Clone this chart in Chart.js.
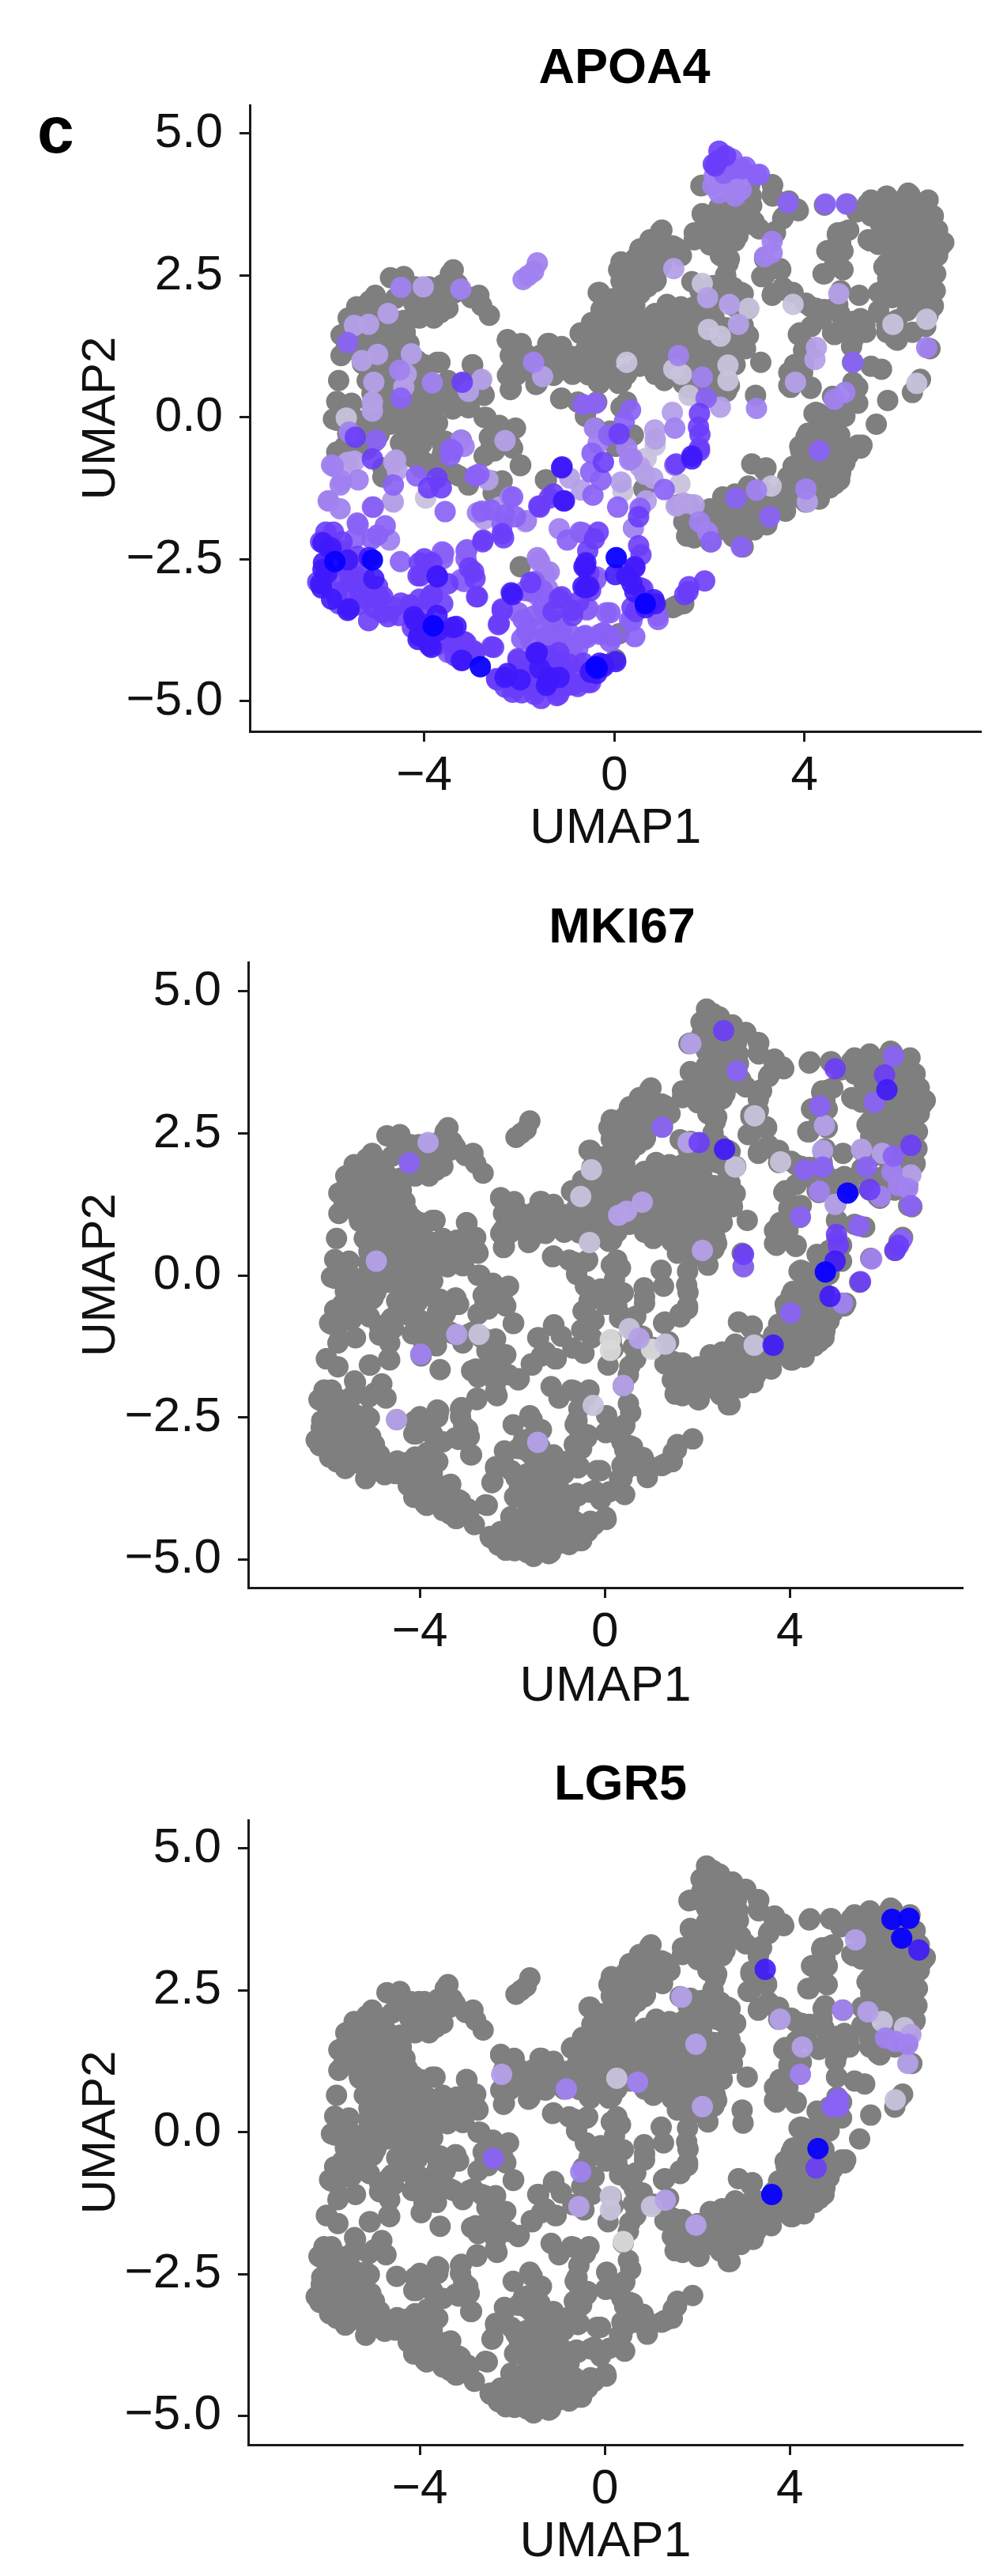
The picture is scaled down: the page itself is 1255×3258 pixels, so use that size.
<!DOCTYPE html>
<html>
<head>
<meta charset="utf-8">
<title>UMAP feature plots</title>
<script src="https://cdn.jsdelivr.net/npm/chart.js@4/dist/chart.umd.min.js"></script>
<style>
  html, body { margin: 0; padding: 0; background: #fff; }
  #page { position: relative; width: 1255px; height: 3258px; overflow: hidden; }
  #page canvas { position: absolute; left: 0; }
  #panelLetter { position: absolute; left: 47px; top: 122px; font: bold 84px "Liberation Sans", Arial, sans-serif; color: #000; line-height: 84px; }
</style>
</head>
<body>
<div id="page">
  <div id="panelLetter">c</div>
  <canvas id="apoa4Chart"></canvas>
  <canvas id="mki67Chart"></canvas>
  <canvas id="lgr5Chart"></canvas>
</div>
<script>
// [UMAP1, UMAP2, APOA4 level] - level 0 is no expression (grey), 8 is the highest
var upperLeftCells = [
  [-4.71,2.46,0],[-4.43,2.48,0],[-3.61,2.34,0],[-3.45,2.53,0],[-3.78,2.11,0],[-4.05,1.85,0],[-3.5,1.92,0],[-4.22,2.01,0],
  [-3.78,1.92,0],[-4.43,1.71,0],[-5.03,2.15,0],[-5.42,1.95,0],[-4.98,1.83,0],[-5.75,1.09,0],[-4.32,1.3,0],[-4.71,1.46,0],
  [-4.98,1.41,0],[-5.31,1.27,0],[-4.6,1.23,0],[-5.8,0.65,0],[-4.71,1.0,0],[-4.82,0.62,0],[-4.76,0.3,0],[-4.0,0.9,0],
  [-3.67,0.97,0],[-2.98,0.92,0],[-2.74,0.39,0],[-3.56,0.39,0],[-3.67,0.25,0],[-4.16,0.44,0],[-4.22,0.11,0],[-3.89,0.3,0],
  [-3.72,-0.1,0],[-4.05,0.02,0],[-3.07,0.17,0],[-2.74,0.0,0],[-2.47,-0.17,0],[-2.08,-0.19,0],[-2.14,-0.54,0],[-2.63,-0.35,0],
  [-2.74,-0.68,0],[-2.52,-0.59,0],[-1.98,-0.85,0],[-1.43,-1.1,0],[-2.85,2.15,0],[-2.63,1.8,0],[-2.79,1.97,0],[-3.01,2.11,0],
  [-5.8,0.25,0],[-5.53,0.25,0],[-5.91,-0.03,0],[-4.71,-0.12,0],[-4.38,-0.26,0],[-4.22,-0.4,0],[-4.05,-0.47,0],[-4.32,-0.54,0],
  [-4.43,-0.17,0],[-3.99,-0.79,0],[-4.87,-1.05,0],[-5.75,-0.59,0],[-4.98,-0.12,0],[-3.67,-0.93,0],[-3.34,-1.0,0],[-3.07,-1.19,0],
  [-2.41,-1.14,0],[-2.55,-1.33,0],[-3.61,-0.49,0],[-2.25,1.36,0],[-1.98,1.27,0],[-2.19,1.09,0],[-2.19,0.81,0],[-2.17,0.51,0],
  [-1.87,1.09,0],[-1.65,0.58,0],[-1.37,1.3,0],[-1.1,1.18,0],[-0.88,1.04,0],[-0.88,0.76,0],[-1.16,0.83,0],[-0.34,2.2,0],
  [-0.72,1.48,0],[-0.34,1.69,0],[-0.44,1.32,0],[-0.61,1.0,0],[-0.34,0.62,0],[-0.23,1.23,0],[-1.13,0.33,0],[-0.61,0.02,0],
  [-0.28,1.9,0],
  [-4.49,2.29,4],[-4.02,2.3,3],[-3.23,2.26,4],[-4.76,1.83,3],[-5.47,1.62,3],[-5.17,1.64,3],[-5.61,1.32,5],[-5.31,1.0,3],
  [-4.98,1.11,3],[-4.27,1.12,3],[-5.06,0.62,3],[-4.52,0.83,4],[-4.38,0.76,3],[-5.09,0.27,3],[-5.09,0.11,3],[-4.49,0.34,5],
  [-4.43,0.53,3],[-3.83,0.61,4],[-3.2,0.62,6],[-2.79,0.67,3],[-3.07,0.46,3],[-2.3,-0.41,3],[-5.64,-0.01,2],[-5.58,-0.26,4],
  [-5.45,-0.35,6],[-5.01,-0.4,5],[-5.09,-0.73,6],[-5.47,-0.77,3],[-5.91,-0.86,4],[-4.6,-0.75,3],[-4.57,-0.93,3],[-4.65,-1.19,5],
  [-4.16,-1.03,5],[-3.91,-1.24,6],[-3.64,-1.24,6],[-5.77,-1.19,4],[-5.39,-1.1,4],[-6.02,-1.47,4],[-5.77,-1.61,4],[-5.09,-1.58,5],
  [-4.65,-1.49,3],[-3.97,-1.42,2],[-3.56,-1.66,5],[-2.85,-1.0,5],[-2.66,-1.1,3],[-3.4,-0.59,5],[-3.23,-0.4,4],[-3.45,-0.68,5],
  [-1.7,0.97,4],[-1.51,0.72,3],[-0.66,0.23,5],[-0.39,0.25,5],[-1.92,2.43,4],[-1.7,2.57,4],[-1.81,2.5,4],[-1.62,2.72,4],[-1.1,-0.87,7],
  [-0.94,-1.07,3],[-0.42,-0.19,4],[-0.12,-0.31,5],[-0.34,-0.45,4]
];

var upperLeftFill = [
  [-4.3,2.2,0],[-3.9,2.3,0],[-3.55,2.1,0],[-3.39,2.6,0],[-3.35,2.2,0],[-4.0,2.0,0],[-3.8,1.75,0],[-4.25,1.75,0],
  [-4.6,2.1,0],[-4.85,1.95,0],[-5.15,2.05,0],[-5.15,1.75,0],[-4.7,1.75,0],[-4.55,1.6,0],[-5.6,1.75,0],[-5.75,1.45,0],
  [-5.5,1.45,0],[-5.2,1.45,0],[-5.5,1.2,0],[-5.2,1.1,0],[-4.9,1.2,0],[-4.5,1.35,0],[-4.3,1.1,0],[-4.6,1.05,0],
  [-5.0,0.9,0],[-4.7,0.8,0],[-5.2,0.65,0],[-4.9,0.4,0],[-4.6,0.5,0],[-5.05,0.0,0],[-5.2,-0.2,0],[-4.6,0.15,0],
  [-4.35,0.4,0],[-4.4,0.7,0],[-4.15,0.7,0],[-3.85,0.6,0],[-3.5,0.65,0],[-3.3,0.55,0],[-3.3,0.35,0],[-3.4,0.15,0],
  [-3.15,0.4,0],[-2.99,0.93,0],[-2.82,0.65,0],[-2.76,0.42,0],[-3.05,0.18,0],[-3.16,0.6,0],[-2.7,0.0,0],[-2.42,-0.14,0],
  [-2.59,-0.51,0],[-3.56,-0.42,0],[-3.22,-0.4,0],[-2.25,1.37,0],[-1.96,1.3,0],[-2.25,0.74,0],[-2.19,0.49,0],[-1.85,1.11,0],
  [-1.62,0.93,0],[-1.62,0.6,0],[-1.74,0.8,0],[-1.4,1.3,0],[-1.11,1.25,0],[-1.28,0.74,0],[-0.88,1.07,0],[-0.6,0.97,0],
  [-0.37,0.97,0],[-0.31,0.6,0],[-1.11,0.34,0],[-0.77,0.27,0],[-0.37,0.27,0],[-0.6,0.09,0],[-0.4,-0.19,0],[-0.31,2.2,0],
  [-0.03,2.09,0],[-0.25,1.86,0],[-0.71,1.49,0],[-0.48,1.67,0],[-0.14,1.62,0],[-0.54,1.35,0],[-0.26,1.25,0],[0.09,1.35,0],
  [0.09,2.6,0],[0.14,2.74,0],[0.14,2.4,0],[-0.09,-0.24,0],[0.14,0.18,0],[0.09,0.6,0],[0.2,-0.33,0],[0.03,-0.51,0],
  [-5.84,0.28,0],[-5.55,0.23,0],[-5.84,-0.05,0],[-5.61,-0.28,0],[-5.1,-0.28,0],[-5.67,-0.51,0],[-5.27,-0.51,0],[-5.1,0.42,0],
  [-5.1,0.7,0],[-4.87,0.14,0],[-4.64,-0.05,0],[-4.19,0.09,0],[-3.79,-0.05,0],[-4.3,-0.28,0],[-4.13,-0.47,0],[-3.73,0.23,0],
  [-3.5,0.42,0],[-3.9,0.6,0],[-4.3,0.79,0],[-4.64,0.83,0],[-3.73,0.97,0],[-4.0,0.93,0],
  [-5.6,1.55,0],[-5.35,1.7,0],[-5.05,1.55,0],[-4.8,1.55,0],[-5.65,1.2,0],[-5.35,1.35,0],[-5.05,1.25,0],[-4.75,1.3,0],
  [-4.4,1.5,0],[-5.3,0.95,0],[-5.0,1.05,0],[-4.45,0.95,0],[-4.15,1.0,0],[-5.15,0.85,0],[-5.0,0.6,0],[-4.55,0.65,0],
  [-4.25,0.55,0],[-3.95,0.4,0],[-3.7,0.5,0],[-5.1,0.2,0],[-4.95,0.25,0],[-4.5,0.25,0],[-4.4,0.05,0],[-4.0,0.15,0],
  [-3.85,0.05,0],[-5.4,-0.05,0],[-5.3,-0.25,0],[-4.95,-0.3,0],[-4.5,-0.1,0],[-4.2,-0.15,0],[-3.95,-0.3,0],[-4.25,-0.7,0],
  [-4.5,-0.45,0],[-4.45,2.2,0],[-4.2,2.3,0],[-3.65,2.1,0],[-3.65,1.85,0],[-4.1,1.75,0],[-3.3,2.35,0],
  [-2.05,1.0,0],[-2.05,0.75,0],[-1.95,0.95,0],[-1.75,1.0,0],[-1.55,1.1,0],[-1.2,1.0,0],[-1.0,0.9,0],[-1.4,0.85,0],
  [-0.75,0.95,0],[-0.6,1.2,0],[-0.45,1.05,0],[-0.15,1.0,0],[-0.1,0.75,0],[-0.55,0.75,0],[-0.2,1.45,0],[-0.45,1.5,0],
  [-0.1,1.85,0],[0.05,1.5,0]
];

var upperRightCells = [
  [1.82,4.08,0],[1.85,3.59,0],[2.12,3.45,0],[2.39,3.78,0],[2.67,3.73,0],[2.89,3.73,0],[2.56,3.55,0],[2.94,3.45,0],
  [3.05,3.32,0],[3.32,4.1,0],[3.32,3.92,0],[3.54,3.5,0],[3.87,3.64,0],[3.38,3.27,0],[2.5,3.18,0],[2.23,3.22,0],
  [1.85,3.27,0],[1.68,3.13,0],[2.01,3.04,0],[2.23,2.85,0],[2.39,2.71,0],[2.34,2.48,0],[0.97,3.27,0],[0.75,3.13,0],
  [0.53,2.94,0],[1.03,2.99,0],[1.3,2.99,0],[1.41,2.85,0],[0.86,2.76,0],[0.48,2.66,0],[0.15,2.66,0],[0.64,2.48,0],
  [0.86,2.39,0],[0.26,2.43,0],[0.48,2.2,0],[0.01,2.06,0],[0.01,1.74,0],[0.43,1.97,0],[1.63,2.39,0],[1.14,1.92,0],
  [0.86,1.83,0],[1.46,1.88,0],[1.74,1.83,0],[0.59,1.69,0],[0.53,1.5,0],[0.92,1.55,0],[1.25,1.64,0],[1.57,1.55,0],
  [0.75,1.32,0],[0.37,1.27,0],[0.1,1.23,0],[0.64,1.04,0],[0.53,0.9,0],[0.86,0.76,0],[0.15,0.62,0],[0.26,0.76,0],
  [1.9,1.18,0],[2.12,1.09,0],[1.79,1.04,0],[2.07,0.85,0],[2.67,1.27,0],[2.78,1.46,0],[2.5,1.18,0],[2.34,2.25,0],
  [2.67,2.2,0],[2.5,2.29,0],[3.08,0.97,0],[2.97,0.39,0],[3.1,2.48,0],[3.32,2.62,0],[3.49,2.62,0],[3.32,2.15,0],
  [3.54,2.29,0],[3.76,2.2,0],[4.03,2.01,0],[4.25,1.92,0],[4.36,1.74,0],[4.74,1.83,0],[5.02,1.69,0],[5.18,1.74,0],
  [5.29,1.5,0],[4.85,1.69,0],[4.63,1.46,0],[5.02,1.36,0],[3.87,1.46,0],[4.14,1.6,0],[3.98,1.18,0],[3.76,0.85,0],
  [3.98,0.95,0],[3.71,0.53,0],[4.14,0.53,0],[4.39,2.53,0],[4.74,2.66,0],[4.5,2.94,0],[4.85,3.27,0],[4.69,3.22,0],
  [5.15,2.15,0],[5.4,3.83,0],[5.73,3.87,0],[6.22,3.92,0],[6.6,3.83,0],[6.71,3.55,0],[5.4,3.55,0],[5.73,3.59,0],
  [6.05,3.64,0],[6.38,3.59,0],[5.34,3.13,0],[5.67,3.27,0],[6.0,3.32,0],[6.33,3.27,0],[6.66,3.22,0],[6.93,3.08,0],
  [5.78,3.08,0],[6.16,3.04,0],[6.55,2.99,0],[5.73,2.71,0],[5.95,2.85,0],[6.22,2.76,0],[6.76,2.53,0],[6.49,2.62,0],
  [5.56,2.2,0],[5.89,2.39,0],[6.11,2.43,0],[6.66,2.25,0],[5.56,1.88,0],[5.84,2.11,0],[6.16,2.15,0],[6.71,1.97,0],
  [6.38,2.06,0],[6.16,1.88,0],[5.73,1.5,0],[5.95,1.36,0],[6.27,1.5,0],[6.55,1.6,0],[5.4,0.9,0],[5.62,0.85,0],
  [6.27,0.44,0],[6.44,0.67,0],[5.75,0.3,0],[5.51,-0.12,0],[5.02,0.62,0],[5.12,0.53,0],[5.12,0.25,0],[4.3,0.07,0],
  [4.2,0.07,0],[4.58,0.02,0],[4.85,0.02,0],[0.26,0.27,0],[0.4,-0.31,0],
  [2.18,4.52,6],[2.34,4.61,6],[2.12,4.43,6],[2.67,4.38,5],[2.99,4.27,5],[2.07,4.08,4],[2.39,4.15,4],[2.67,4.01,4],
  [2.48,4.38,5],[3.65,3.78,5],[3.32,3.1,4],[3.32,2.9,4],[3.16,2.83,4],[4.44,3.76,5],[4.88,3.76,5],[1.25,2.62,3],
  [1.85,2.36,2],[1.96,2.11,3],[2.42,1.99,3],[2.83,1.92,2],[2.61,1.64,3],[1.98,1.55,2],[2.23,1.43,2],[3.76,1.99,2],
  [4.72,2.18,3],[5.86,1.64,2],[6.57,1.73,2],[6.57,1.23,4],[0.26,0.97,2],[1.35,1.09,4],[1.25,0.85,2],[1.41,0.76,2],
  [1.85,0.71,4],[2.39,0.92,2],[2.39,0.65,2],[4.25,1.23,3],[4.22,1.02,3],[3.81,0.62,3],[5.02,0.97,5],[4.85,0.44,4],
  [4.63,0.32,4],[6.36,0.6,2],[1.57,0.39,2],[1.93,0.34,5],[2.23,0.18,3],[2.99,0.16,4],[1.22,0.09,3],[1.79,0.07,6],
  [1.77,-0.17,6],[1.27,-0.19,4],[0.86,-0.38,3],[1.79,-0.54,6],[1.63,-0.68,7],[1.3,-0.82,6],[0.34,0.13,5],[0.21,-0.07,5],
  [0.1,-0.29,6],[0.26,-0.54,4],[0.37,-0.72,4],[0.85,-0.22,3],[1.8,-0.3,6]
];

var upperRightFill = [
  [2.2,4.69,6],[2.08,4.46,6],[2.48,4.55,5],[2.76,4.41,5],[3.05,4.28,5],[1.85,4.09,0],[2.25,4.18,4],[2.65,4.18,4],
  [2.2,3.95,4],[2.54,3.9,4],[2.88,3.9,0],[2.82,3.67,0],[2.54,3.58,0],[2.93,3.39,0],[3.33,4.09,0],[3.33,3.9,0],
  [3.67,3.81,0],[3.85,3.67,0],[3.56,3.53,0],[3.39,3.25,0],[1.85,3.58,0],[1.97,3.39,0],[2.31,3.16,0],[2.54,3.11,0],
  [1.68,3.25,0],[1.97,3.11,0],[2.2,2.97,0],[2.42,2.79,0],[2.34,2.51,0],[1.0,3.3,0],[0.83,3.11,0],[1.23,3.02,0],
  [0.54,2.97,0],[0.77,2.79,0],[0.43,2.79,0],[1.0,2.69,0],[0.6,2.55,0],[0.88,2.42,0],[0.37,2.37,0],[0.54,2.18,0],
  [0.37,2.04,0],[0.43,1.72,0],[0.6,1.63,0],[0.83,1.81,0],[1.11,1.99,0],[1.4,1.95,0],[1.8,2.23,0],[2.08,2.32,0],
  [2.42,2.28,0],[2.71,2.18,0],[2.82,1.91,0],[1.97,2.04,0],[2.25,2.09,0],[2.54,1.95,0],[1.68,1.95,0],[1.23,1.77,0],
  [1.51,1.77,0],[0.94,1.62,0],[1.28,1.53,0],[1.62,1.39,0],[1.97,1.35,0],[2.36,1.58,0],[2.71,1.62,0],[2.82,1.44,0],
  [2.54,1.3,0],[2.76,1.21,0],[2.25,1.21,0],[1.23,1.25,0],[0.83,1.39,0],[0.54,1.44,0],[1.28,1.02,0],[1.62,1.07,0],
  [1.97,1.02,0],[2.31,1.07,0],[2.54,0.93,0],[0.98,0.83,0],[1.28,0.74,0],[1.62,0.79,0],[1.97,0.79,0],[2.25,0.79,0],
  [2.42,0.56,0],[1.57,0.51,0],[1.85,0.37,0],[2.36,0.46,0],[3.16,2.5,0],[3.16,2.79,0],[3.5,2.6,0],[3.33,2.18,0],
  [3.62,2.23,0],[4.13,1.95,0],[4.42,1.9,0],[4.7,1.99,0],[4.76,2.23,0],[5.04,1.67,0],[5.27,1.63,0],[4.81,1.63,0],
  [4.59,1.49,0],[4.99,1.25,0],[5.01,0.97,0],[3.9,1.49,0],[4.02,1.25,0],[3.79,0.93,0],[3.67,0.56,0],[4.13,0.51,0],
  [3.96,0.79,0],[3.67,0.79,0],[4.42,3.74,0],[4.9,3.76,0],[5.1,3.62,0],[4.7,3.25,0],[4.93,3.3,0],[4.76,3.07,0],
  [4.47,2.93,0],[4.81,2.93,0],[4.42,2.53,0],[4.81,2.6,0],[4.64,2.7,0],[5.38,3.11,0],[5.33,3.76,0],[5.73,3.9,0],
  [6.18,3.95,0],[5.56,3.58,0],[5.95,3.58,0],[5.9,3.3,0],[6.24,3.11,0],[5.84,3.02,0],[6.58,2.97,0],[6.87,3.02,0],
  [6.7,3.53,0],[5.78,2.74,0],[6.13,2.79,0],[6.47,2.79,0],[5.67,2.65,0],[5.95,2.51,0],[6.18,2.46,0],[6.7,2.55,0],
  [6.64,2.32,0],[6.75,2.23,0],[6.7,1.95,0],[5.95,2.32,0],[6.18,2.23,0],[6.47,2.14,0],[5.56,1.85,0],[5.73,1.63,0],
  [5.9,1.39,0],[5.95,1.72,0],[6.64,1.21,0],
  [0.3,2.55,0],[0.7,2.65,0],[1.05,2.85,0],[0.7,2.95,0],[0.3,2.3,0],[0.7,2.3,0],[0.25,2.05,0],[0.2,1.85,0],
  [0.25,1.55,0],[0.75,1.5,0],[1.1,1.5,0],[1.4,1.6,0],[1.75,1.6,0],[2.1,1.75,0],[1.1,1.15,0],[1.45,1.2,0],
  [1.75,1.25,0],[0.95,1.05,0],[1.45,0.95,0],[1.8,0.9,0],[2.15,0.95,0],[1.05,0.65,0],[1.45,0.6,0],[1.75,0.55,0],
  [2.15,0.55,0],[2.0,0.4,0],[2.3,4.3,5],[2.6,4.25,4],[2.1,4.25,4],[2.85,4.1,0],[2.2,3.7,0],[2.65,3.4,0],
  [2.3,3.4,0],[2.6,3.2,0],[2.1,3.25,0],
  [5.55,3.75,0],[5.9,3.8,0],[6.1,3.85,0],[6.4,3.75,0],[5.6,3.4,0],[5.85,3.45,0],[6.2,3.45,0],[6.5,3.4,0],
  [6.8,3.3,0],[5.55,3.05,0],[6.0,3.05,0],[6.4,3.2,0],[6.8,2.85,0],[6.35,2.85,0],[6.0,2.6,0],[6.35,2.45,0],
  [6.55,2.4,0],[5.75,2.45,0],[6.45,2.0,0],[6.6,1.8,0]
];

var lowerRightCells = [
  [2.89,-0.82,0],[3.19,-0.89,0],[3.92,-0.59,0],[4.74,-0.63,0],[5.18,-0.54,0],[3.65,-1.05,0],[4.09,-0.91,0],[4.53,-0.96,0],
  [4.74,-1.1,0],[3.6,-1.28,0],[4.53,-1.24,0],[4.31,-1.44,0],[3.54,-1.51,0],[2.28,-1.4,0],[2.01,-1.61,0],[2.34,-1.7,0],
  [2.67,-1.65,0],[3.0,-1.61,0],[3.38,-1.61,0],[3.6,-1.65,0],[2.39,-2.0,0],[2.67,-1.93,0],[2.94,-1.98,0],[3.21,-1.89,0],
  [1.46,-1.84,0],[1.52,-2.09,0],[1.68,-2.12,0],[0.62,-1.26,0],[1.3,-3.32,0],[1.46,-3.28,0],[0.1,-3.81,0],[0.02,-4.26,0],
  [4.03,-0.35,0],[3.92,-0.54,0],[4.3,-0.26,0],[4.74,-0.31,0],[5.12,-0.49,0],[4.85,-0.54,0],[4.58,-0.72,0],[4.09,-0.72,0],
  [4.41,-0.17,0],[3.76,-0.86,0],
  [1.34,-1.54,0],[1.57,-1.54,0],[2.31,-1.44,0],[2.82,-1.21,0],[2.54,-1.35,0],[3.1,-1.26,0],[3.16,-0.93,0],[1.57,-2.09,0],
  [2.02,-2.19,0],[1.85,-1.91,0],[2.19,-1.91,0],[2.54,-1.82,0],[2.42,-2.0,0],[2.71,-2.28,0],[2.76,-2.0,0],[2.99,-1.77,0],
  [3.22,-1.63,0],[3.45,-1.49,0],[3.67,-1.35,0],[4.02,-1.49,0],[4.3,-1.35,0],[4.64,-1.17,0],[4.76,-0.98,0],[4.13,-1.07,0],
  [4.47,-1.03,0],[3.9,-0.51,0],[4.07,-0.28,0],[4.24,0.09,0],[4.59,0.37,0],[4.81,0.14,0],[4.24,-0.75,0],[3.96,-0.93,0],
  [4.93,-0.65,0],[5.21,-0.49,0],[4.7,-0.05,0],[1.23,-3.35,0],
  [3.85,-1.2,0],[4.2,-1.2,0],[3.85,-1.4,0],[4.55,-0.75,0],[4.35,-0.55,0],[4.1,-0.5,0],[4.6,-0.5,0],[4.35,-0.85,0],
  [4.85,-0.8,0],[2.9,-1.45,0],[3.25,-1.4,0],[2.7,-1.45,0],[2.1,-1.85,0],[2.5,-2.1,0],[3.05,-1.8,0],[2.85,-1.7,0],
  [2.5,-1.55,0],[2.25,-1.6,0],
  [4.31,-0.59,5],[4.03,-1.26,4],[4.06,-1.49,3],[3.27,-1.75,5],[2.67,-2.28,5],[2.56,-1.42,5],[2.99,-1.28,4],[3.3,-1.21,2],
  [1.79,-1.84,4],[1.96,-2.02,4],[2.04,-2.19,5],[1.46,-1.51,3],[1.68,-1.54,3],[1.3,-1.56,3],[1.05,-1.27,5],[1.38,-1.17,2],
  [0.64,-1.0,3],[0.81,-1.07,3],[0.54,-0.87,3],[0.67,-0.72,2],[0.86,-0.49,2],[0.32,-0.75,4],[0.14,-1.14,3],[0.18,-1.3,2],
  [0.07,-1.58,5],[0.67,-1.47,3],[0.51,-1.75,6],[0.4,-1.95,4],[1.27,-0.84,5],[1.63,-0.73,7],[1.79,-0.59,6],[-0.47,-0.63,5],
  [-0.23,-0.79,6],[-0.5,-0.96,5],[-0.28,-1.1,5],[-0.45,-1.37,5],[-0.69,-1.28,3],[-0.67,-2.03,5],[-0.42,-2.14,6],[-0.56,-2.35,6],
  [0.04,-2.47,8],[0.51,-2.26,6],[0.56,-2.42,6],[0.43,-2.63,7],[-0.61,-2.63,7],[0.02,-2.77,7],[0.26,-2.79,7],[-0.37,-2.81,5],
  [-0.61,-3.0,7],[-0.5,-3.05,6],[0.43,-3.07,7],[0.65,-3.28,8],[0.86,-3.28,7],[0.54,-3.0,6],[0.92,-3.56,5],[1.55,-3.07,6],
  [1.9,-2.88,6],[0.45,-3.42,6],[0.32,-3.58,5],[-0.09,-3.44,5],[-0.58,-3.39,5],[-0.58,-3.88,5],[-0.23,-3.81,5],[-0.09,-3.95,5],
  [0.43,-3.86,5],[-0.39,-4.39,8],[-0.23,-4.35,7],[-0.56,-4.67,6],[-0.5,-4.48,7],
  [0.54,-1.6,5],[0.43,-2.65,6],[0.37,-2.93,7],[0.6,-3.02,6],[0.83,-3.21,7],[0.37,-3.35,6],[0.66,-3.35,7],[0.91,-3.49,5],
  [1.48,-3.12,6],[1.57,-2.98,6],[0.37,-3.58,5]
];

var lowerLeftCells = [
  [-1.98,-2.63,0],
  [-2.19,-1.4,4],[-2.79,-1.65,5],[-2.41,-1.58,3],[-2.74,-1.79,3],[-2.36,-1.89,5],[-2.08,-1.75,5],[-1.87,-1.84,3],[-2.33,-2.12,6],
  [-2.77,-2.19,6],[-1.59,-1.56,6],[-1.37,-1.42,6],[-1.07,-1.47,7],[-1.16,-1.96,4],[-0.99,-2.16,5],[-0.72,-2.02,5],[-0.34,-2.02,6],
  [-6.07,-2.02,6],[-6.13,-2.21,7],[-5.91,-2.02,6],[-5.96,-2.3,7],[-5.39,-1.89,5],[-5.45,-2.12,5],[-4.82,-1.91,5],[-4.98,-2.07,5],
  [-4.73,-2.16,4],[-3.59,-2.39,5],[-3.12,-2.35,5],
  [-5.88,-2.54,8],[-5.09,-2.51,8],[-6.16,-3.0,7],[-6.13,-2.68,7],[-6.24,-2.9,6],[-5.61,-2.68,6],[-5.42,-2.81,6],[-5.06,-2.84,7],
  [-5.85,-3.09,6],[-5.58,-3.37,7],[-5.8,-3.28,6],[-5.36,-3.09,6],[-4.93,-3.19,6],[-5.17,-3.58,6],[-4.76,-3.51,6],[-4.49,-3.27,6],
  [-4.5,-2.54,5],[-4.08,-2.79,6],[-3.72,-2.81,7],[-4.0,-2.49,6],[-3.61,-2.49,5],[-3.12,-2.49,5],[-2.96,-2.72,6],[-3.23,-2.86,5],
  [-2.9,-3.16,6],[-3.83,-3.14,6],[-3.61,-3.28,6],[-4.22,-3.51,7],[-3.99,-3.37,6],[-3.81,-3.67,8],[-4.11,-3.84,7],[-3.89,-4.02,7],
  [-3.56,-3.88,6],[-3.4,-3.7,7],[-3.5,-4.11,5],[-3.12,-3.97,6],[-3.2,-4.28,7],[-2.82,-4.39,8],[-2.96,-4.11,6],[-2.58,-4.04,6],
  [-2.44,-3.65,6],[-2.36,-3.37,6],[-2.17,-3.09,7],[-1.57,-2.54,4],[-1.37,-2.72,4],[-1.76,-2.91,6],[-1.51,-3.05,5],[-1.87,-3.05,5],
  [-0.64,-2.63,7],[-0.66,-2.98,7],[-0.39,-2.86,5],[-0.55,-3.37,5],[-1.16,-3.19,6],[-1.29,-3.42,6],[-0.88,-3.49,6],[-0.17,-3.44,5],
  [-0.23,-3.79,5],[-0.61,-3.84,5],[-0.77,-4.07,5],[-1.92,-3.56,5],[-1.59,-3.7,5],[-1.95,-3.9,5],[-1.16,-3.74,5],[-1.05,-3.97,5],
  [-1.37,-3.97,5],[-1.65,-4.16,7],[-2.03,-4.25,6],[-1.16,-4.3,6],[-0.36,-4.42,8],[-0.5,-4.49,7],[-0.23,-4.39,7],[-0.5,-4.67,6],
  [-2.3,-4.58,7],[-2.08,-4.76,6],[-2.47,-4.62,6],[-1.98,-4.62,7],[-1.37,-4.58,7],[-1.54,-4.95,6],[-1.21,-4.9,6],[-0.99,-4.72,6],
  [-1.43,-4.72,7],[-1.16,-4.58,7],[-1.81,-4.72,6],[-0.83,-4.49,6],[-0.94,-4.35,6]
];

var lowerLeftFill = [
  [-5.95,-0.84,4],[-5.61,-0.79,3],[-5.73,-1.12,4],[-5.21,-0.56,0],[-4.87,-0.89,0],[-4.64,-0.79,3],[-4.47,-0.65,0],[-4.13,-0.47,0],
  [-4.07,-0.89,0],[-3.73,-1.07,6],[-3.27,-1.03,0],[-2.93,-1.03,5],[-2.59,-1.12,0],[-2.36,-1.12,0],[-2.14,-1.4,5],[-2.59,-1.63,5],
  [-2.31,-1.72,5],[-2.88,-1.68,4],[-2.36,-2.05,6],[-1.85,-1.82,4],[-1.57,-1.58,6],[-1.28,-1.35,6],[-1.05,-1.47,7],[-1.45,-1.1,0],
  [-1.11,-0.89,7],[-1.97,-0.84,0],[-3.45,-0.56,5],[-3.62,-0.65,0],[-3.16,-0.51,4],[-2.59,-0.56,0],[-2.19,-0.47,0],[-4.67,-1.47,3],
  [-5.07,-1.58,5],[-6.01,-1.47,4],[-5.41,-1.86,5],[-5.1,-2.14,5],[-6.18,-2.19,6],[-5.73,-2.19,6],[-5.16,-2.47,7],[-6.12,-2.56,7],
  [-5.61,-2.51,7],[-5.27,-2.79,6],[-6.18,-2.93,7],[-5.84,-2.79,6],[-5.61,-3.02,6],[-5.84,-3.16,6],[-4.98,-2.98,6],[-4.87,-3.16,6],
  [-5.21,-3.21,6],[-5.61,-3.4,7],[-4.87,-3.44,6],[-4.53,-3.49,6],[-4.19,-3.58,7],[-3.9,-3.21,6],[-3.73,-3.49,7],[-4.13,-3.91,7],
  [-3.85,-4.05,7],[-3.56,-3.82,6],[-3.33,-3.68,7],[-3.5,-4.14,5],[-3.16,-3.95,6],[-3.22,-4.28,7],[-2.93,-4.14,6],[-4.1,-2.56,6],
  [-4.13,-2.79,6],[-3.62,-2.37,5],[-3.84,-2.56,6],[-3.73,-2.79,7],[-3.5,-2.93,6],[-3.84,-3.12,6],[-3.1,-2.33,5],[-3.05,-2.65,6],
  [-2.93,-2.84,6],[-3.16,-2.89,5],[-2.88,-3.16,6],[-2.76,-2.16,6],[-1.62,-2.47,4],[-1.45,-2.75,4],[-1.68,-2.89,5],[-2.14,-3.12,7],
  [-1.74,-3.07,5],[-1.4,-3.02,4],[-1.11,-3.16,6],[-2.36,-3.4,6],[-2.42,-3.63,6],[-2.02,-3.44,5],[-0.88,-3.4,6],[-0.6,-3.35,5],
  [-1.51,-3.35,5],[-1.17,-3.58,5],[-1.85,-3.77,5],[-1.45,-3.86,5],[-1.11,-3.77,5],[-0.65,-3.86,5],[-0.31,-3.82,5],[-0.03,-3.86,5],
  [-2.54,-4.05,6],[-2.02,-4.28,6],[-1.62,-4.14,7],[-1.17,-4.14,6],[-0.88,-4.05,5],[-1.57,-4.42,7],[-1.22,-4.37,6],[-0.65,-4.33,6],
  [-0.31,-4.33,7],[0.03,-4.3,7],[-2.25,-4.51,7],[-2.48,-4.6,6],[-1.91,-4.65,6],[-1.4,-4.65,7],[-1.0,-4.65,6],[-0.6,-4.65,6],
  [-0.37,-4.51,7],[-1.68,-4.88,6],[-2.14,-4.84,6],[-1.17,-4.88,6],[-0.77,-4.74,6],[-0.54,-2.75,6],[-0.6,-2.56,7],[-0.54,-2.98,7],
  [-5.61,-0.47,0],[-5.04,-0.42,0],[-5.84,-0.61,0],
  [-6.0,-2.3,6],[-6.05,-2.75,7],[-5.75,-2.35,6],[-5.4,-2.45,6],[-5.55,-2.9,6],[-5.2,-3.0,6],[-5.95,-3.2,7],[-5.4,-3.3,6],
  [-5.05,-3.35,6],[-4.65,-3.35,5],[-4.3,-3.3,6],[-4.1,-3.2,6],[-4.0,-3.65,7],[-3.7,-3.75,7],[-3.9,-3.9,7],[-4.25,-3.7,6],
  [-3.7,-4.0,6],[-3.35,-4.0,6],[-3.35,-4.2,6],[-3.05,-4.2,6],[-2.3,-4.75,6],[-1.95,-4.85,6],[-1.75,-4.55,6],[-1.3,-4.75,6],
  [-1.65,-4.35,6],[-1.45,-4.4,6],[-1.9,-4.45,6],[-1.05,-4.45,6],[-0.8,-4.3,5],[-0.85,-4.7,6],[-1.4,-4.2,6],[-1.75,-3.95,5],
  [-1.3,-3.85,5],[-0.95,-3.8,5],[-1.7,-3.5,5],[-1.35,-3.55,5],[-1.4,-3.25,4],[-1.6,-3.15,4],[-0.75,-3.25,6]
];

// [UMAP1, UMAP2, level] of the cells with signal, on top of the grey cloud
var mki67Cells = [
  [2.57,4.31,6],[1.86,4.08,3],[2.86,3.6,5],[6.24,3.86,5],[4.98,3.64,6],[6.05,3.53,6],[6.1,3.27,7],[5.83,3.05,5],
  [4.65,2.98,5],[3.24,2.81,2],[4.75,2.64,3],[1.24,2.61,5],[1.8,2.34,3],[2.04,2.34,6],[2.59,2.22,7],[2.82,1.91,2],
  [3.8,2.0,2],[4.71,2.2,3],[5.55,2.22,3],[6.0,2.15,3],[6.62,2.29,6],[4.32,1.86,5],[4.71,1.91,5],[6.24,2.1,5],
  [5.66,1.91,5],[6.62,1.77,3],[6.21,1.82,4],[5.25,1.45,8],[5.73,1.51,6],[4.64,1.48,4],[4.98,1.25,3],[5.96,1.39,4],
  [6.35,1.58,4],[6.55,1.53,4],[6.62,1.23,5],[4.23,1.03,5],[5.5,0.87,5],[5.05,0.53,6],[5.01,0.72,6],[6.42,0.63,5],
  [6.35,0.53,6],[6.28,0.44,6],[5.77,0.29,4],[3.0,0.37,6],[3.0,0.15,5],[2.11,0.44,3],[4.98,0.25,7],[4.77,0.06,8],
  [5.53,-0.11,6],[4.87,-0.37,7],[5.14,-0.49,4],[4.02,-0.66,5],[3.64,-1.23,7],[3.23,-1.23,2],[1.31,-1.21,2],[1.01,-1.3,1],
  [0.74,-1.11,3],[0.53,-0.94,2],[0.12,-1.13,1],[0.12,-1.32,1],[0.4,-1.94,3],[-0.25,-2.29,2],[-1.45,-2.94,3],[-4.5,-2.54,3],
  [-3.98,-1.39,4],[-3.2,-1.04,3],[-2.72,-1.04,2],[-4.94,0.25,3],[-0.33,0.58,2],[-0.52,1.39,2],[0.3,1.06,3],[0.47,1.13,3],
  [0.81,1.29,3],[-0.29,1.86,2],[-4.23,1.98,5],[-3.82,2.34,3]
];

var lgr5Cells = [
  [6.21,3.75,8],[6.58,3.77,8],[6.42,3.42,8],[6.79,3.21,7],[5.42,3.39,3],[3.47,2.87,7],[1.66,2.38,3],[5.14,2.15,4],
  [5.69,2.12,3],[6.0,1.95,2],[3.79,1.99,3],[6.48,1.84,2],[6.62,1.72,3],[6.07,1.66,4],[6.28,1.6,4],[6.55,1.55,4],
  [4.27,1.5,3],[1.97,1.55,3],[4.23,1.02,4],[6.55,1.21,3],[-2.23,1.02,3],[-0.83,0.76,4],[0.26,0.95,2],[0.71,0.88,4],
  [2.11,0.45,3],[6.28,0.57,2],[5.05,0.59,5],[4.91,0.45,5],[5.05,0.45,5],[-2.41,-0.46,5],[-0.52,-0.7,4],[4.61,-0.29,8],
  [4.57,-0.63,6],[3.61,-1.1,8],[1.31,-1.2,3],[1.01,-1.31,2],[-0.56,-1.31,3],[0.12,-1.13,2],[0.12,-1.37,2],[1.97,-1.64,3],
  [0.4,-1.93,1]
];

var xTickValues = [-4, 0, 4];
var yTickValues = [-5, -2.5, 0, 2.5, 5];
var levelColors = ['#7f7f7f', 'rgba(217,217,217,0.95)', 'rgba(200,194,220,0.95)', 'rgba(181,160,232,0.95)', 'rgba(161,130,240,0.95)',
  'rgba(138,98,246,0.92)', 'rgba(106,61,249,0.9)', 'rgba(63,24,251,0.9)', 'rgba(8,0,255,0.95)'];

var FONT = '"Liberation Sans", Arial, sans-serif';
var allCells = upperLeftCells.concat(upperLeftFill, upperRightCells, upperRightFill, lowerRightCells, lowerLeftCells, lowerLeftFill);

function minusSign(text) {
  return String(text).replace('-', '\u2212');
}

function greyCloud() {
  return allCells.map(function(c) { return [c[0], c[1], 0]; });
}

function makePanel(id, title, cells, p) {
  var canvas = document.getElementById(id);
  canvas.width = 1255;
  canvas.height = p.canvasHeight;
  canvas.style.top = p.canvasTop + 'px';
  canvas.style.width = '1255px';
  canvas.style.height = p.canvasHeight + 'px';

  var sorted = cells.slice().sort(function(a, b) { return a[2] - b[2]; });

  return new Chart(canvas, {
    type: 'scatter',
    data: {
      datasets: [{
        label: title,
        data: sorted.map(function(c) { return { x: c[0], y: c[1] }; }),
        pointRadius: 13.5,
        pointBorderWidth: 0,
        pointBackgroundColor: sorted.map(function(c) { return levelColors[c[2]]; }),
        clip: false
      }]
    },
    plugins: [{
      // the titles sit at about the same x in all three panels, not over the plot centre
      id: 'titleShift',
      afterLayout: function(chart) {
        var block = chart.titleBlock;
        var shift = p.titleX - (block.left + block.right) / 2;
        block.left += shift;
        block.right += shift;
      }
    }],
    options: {
      responsive: false,
      animation: false,
      events: [],
      layout: { padding: { left: 0, top: 0, bottom: 0, right: 1255 - p.right } },
      plugins: {
        legend: { display: false },
        tooltip: { enabled: false },
        title: {
          display: true,
          text: title,
          color: '#000',
          font: { family: FONT, size: 63, weight: 'bold', lineHeight: 1.2 },
          padding: { top: p.titleTop, bottom: p.top - p.titleTop - 75.6 }
        }
      },
      scales: {
        x: {
          type: 'linear',
          min: p.xMin,
          max: p.xMax,
          afterBuildTicks: function(axis) {
            axis.ticks = xTickValues.map(function(v) { return { value: v }; });
          },
          afterFit: function(axis) { axis.height = p.canvasHeight - p.bottom; },
          border: { display: true, color: '#1a1a1a', width: 3 },
          grid: { display: true, drawOnChartArea: false, drawTicks: true, tickLength: 13, tickWidth: 3, tickColor: '#1a1a1a' },
          ticks: {
            color: '#111',
            padding: 7,
            maxRotation: 0,
            autoSkip: false,
            font: { family: FONT, size: 62 },
            callback: function(v) { return minusSign(v); }
          },
          title: { display: true, text: 'UMAP1', color: '#111', font: { family: FONT, size: 63, lineHeight: 1.2 }, padding: { top: 0, bottom: p.xTitlePad } }
        },
        y: {
          type: 'linear',
          min: p.yMin,
          max: p.yMax,
          afterBuildTicks: function(axis) {
            axis.ticks = yTickValues.map(function(v) { return { value: v }; });
          },
          afterFit: function(axis) { axis.width = p.left; },
          border: { display: true, color: '#1a1a1a', width: 3 },
          grid: { display: true, drawOnChartArea: false, drawTicks: true, tickLength: 13, tickWidth: 3, tickColor: '#1a1a1a' },
          ticks: {
            color: '#111',
            padding: 21,
            autoSkip: false,
            font: { family: FONT, size: 62 },
            callback: function(v) { return minusSign(v.toFixed(1)); }
          },
          title: { display: true, text: 'UMAP2', color: '#111', font: { family: FONT, size: 60, lineHeight: 1.2 }, padding: { top: 92, bottom: 0 } }
        }
      }
    }
  });
}

makePanel('apoa4Chart', 'APOA4', allCells, {
  canvasTop: 0, canvasHeight: 1100, left: 316, right: 1255, top: 133, bottom: 925, titleX: 790,
  titleTop: 50, xTitlePad: 14, xMin: -7.67, xMax: 7.72, yMin: -5.53, yMax: 5.5
});
makePanel('mki67Chart', 'MKI67', greyCloud().concat(mki67Cells), {
  canvasTop: 1100, canvasHeight: 1100, left: 314, right: 1218, top: 117, bottom: 908, titleX: 787,
  titleTop: 37, xTitlePad: 29, xMin: -7.71, xMax: 7.74, yMin: -5.5, yMax: 5.515
});
makePanel('lgr5Chart', 'LGR5', greyCloud().concat(lgr5Cells), {
  canvasTop: 2180, canvasHeight: 1078, left: 314, right: 1218, top: 122, bottom: 912, titleX: 785,
  titleTop: 41, xTitlePad: 5, xMin: -7.71, xMax: 7.74, yMin: -5.51, yMax: 5.5
});
</script>
</body>
</html>
